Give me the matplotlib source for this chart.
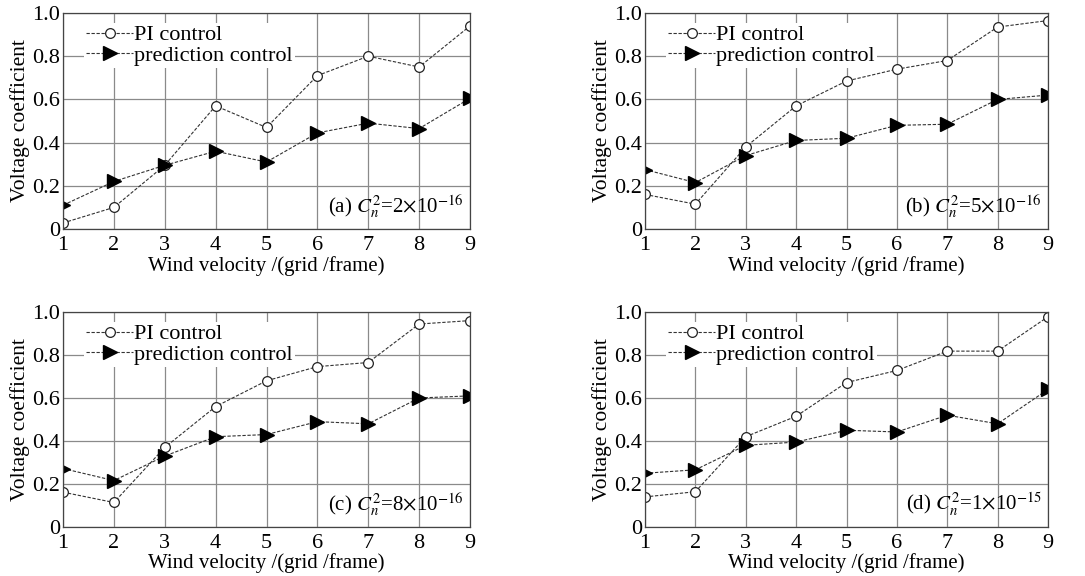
import numpy as np
import matplotlib
matplotlib.use("Agg")
import matplotlib.pyplot as plt

plt.rcParams['font.family'] = ['Liberation Serif', 'DejaVu Serif']
plt.rcParams['mathtext.fontset'] = 'stix'

# wind velocity (grid/frame)
wind = [1, 2, 3, 4, 5, 6, 7, 8, 9]

# voltage coefficient, PI control
pi_a = [0.028, 0.10, 0.295, 0.57, 0.47, 0.71, 0.80, 0.75, 0.94]
pi_b = [0.16, 0.115, 0.38, 0.57, 0.685, 0.74, 0.78, 0.935, 0.965]
pi_c = [0.162, 0.114, 0.37, 0.56, 0.68, 0.746, 0.765, 0.944, 0.96]
pi_d = [0.14, 0.164, 0.42, 0.515, 0.672, 0.728, 0.818, 0.818, 0.978]

# voltage coefficient, prediction control
pred_a = [0.11, 0.22, 0.295, 0.36, 0.31, 0.445, 0.49, 0.465, 0.605]
pred_b = [0.275, 0.215, 0.34, 0.41, 0.42, 0.48, 0.485, 0.60, 0.62]
pred_c = [0.272, 0.216, 0.33, 0.42, 0.43, 0.49, 0.48, 0.60, 0.61]
pred_d = [0.25, 0.266, 0.38, 0.395, 0.45, 0.442, 0.52, 0.48, 0.64]

tags = ['(a) $C_n^2$=2$\\times$10$^{-16}$',
        '(b) $C_n^2$=5$\\times$10$^{-16}$',
        '(c) $C_n^2$=8$\\times$10$^{-16}$',
        '(d) $C_n^2$=1$\\times$10$^{-15}$']
yticks = [0, 0.2, 0.4, 0.6, 0.8, 1.0]
ytick_labels = ['0', '0.2', '0.4', '0.6', '0.8', '1.0']

fig = plt.figure(figsize=(10.85, 5.76), dpi=100)
W, H = 1085.0, 576.0
# axes boxes in pixels: left, top, right, bottom
boxes = [(63, 13, 470, 229), (645, 13, 1048, 229),
         (63, 312, 470, 527), (645, 312, 1048, 527)]
xpads = [5, 5, 5, 5]
xlpads = [1, 1, 0, 0]
pis = [pi_a, pi_b, pi_c, pi_d]
preds = [pred_a, pred_b, pred_c, pred_d]

for k in range(4):
    l, t, r, b = boxes[k]
    ax = fig.add_axes([l / W, 1 - b / H, (r - l) / W, (b - t) / H])
    ax.grid(True, color='#8a8a8a', lw=0.9)
    ax.set_axisbelow(True)
    ax.plot(wind, pis[k], ls='--', dashes=(3, 1.5), color='#333333', lw=0.8,
            marker='o', ms=7, mfc='white', mec='#222222', mew=0.9,
            label='PI control')
    ax.plot(wind, preds[k], ls='--', dashes=(3, 1.5), color='#333333', lw=0.8,
            marker='>', ms=10, mfc='black', mec='black',
            label='prediction control')
    ax.set_xlim(1, 9)
    ax.set_ylim(0, 1.0)
    ax.set_xticks(wind)
    ax.set_yticks(yticks)
    ax.set_yticklabels(ytick_labels)
    ax.tick_params(labelsize=16, length=0)
    ax.tick_params(axis='y', pad=2)
    ax.tick_params(axis='x', pad=xpads[k])
    ax.set_xlabel('Wind velocity /(grid /frame)', fontsize=15, labelpad=xlpads[k])
    ax.set_ylabel('Voltage coefficient', fontsize=15.5, labelpad=2)
    for s in ax.spines.values():
        s.set_color('#444444')
        s.set_linewidth(0.9)
    leg = ax.legend(loc='upper left', bbox_to_anchor=(0.052, 0.955), fontsize=16,
                    frameon=True, framealpha=1, edgecolor='white',
                    handlelength=2.1, handletextpad=0.05, borderpad=0.1,
                    borderaxespad=0, labelspacing=0.0, fancybox=False)
    leg.get_frame().set_linewidth(0)
    ax.text(0.985, 0.075, tags[k], transform=ax.transAxes, ha='right',
            va='baseline', fontsize=15)

fig.savefig('out.png', dpi=100)
